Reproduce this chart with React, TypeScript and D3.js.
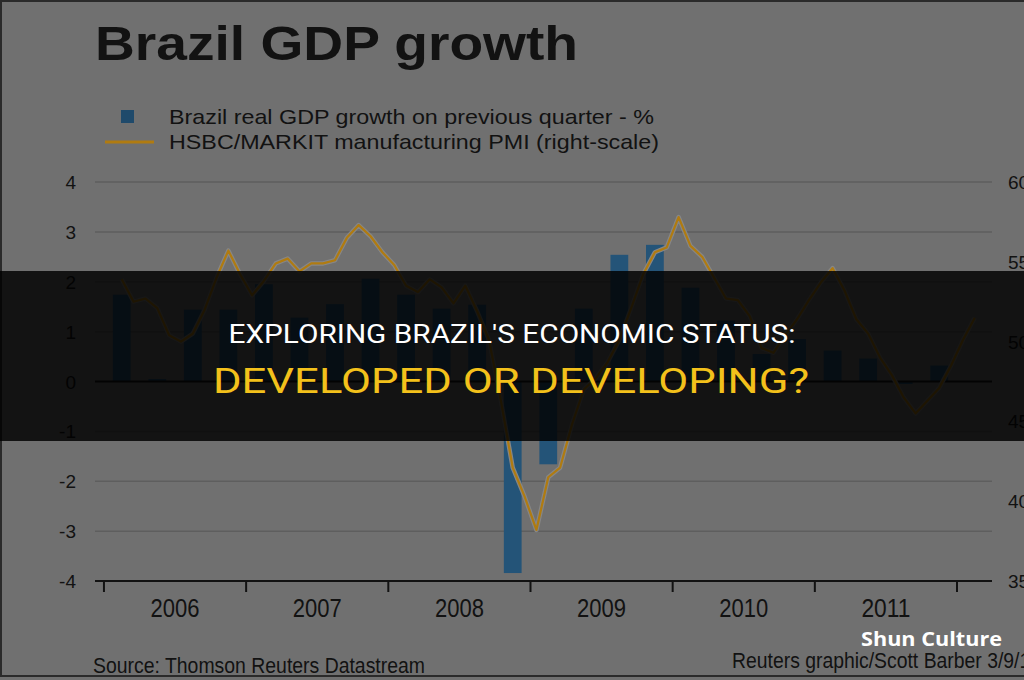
import React from "react";
import * as d3 from "d3";

// Quarterly real GDP growth, % on previous quarter (2006 Q1 .. 2011 Q4)
const gdpStartYear = 2006;
const gdpGrowth = [
  1.74, 0.05, 1.44, 1.44,
  1.95, 1.28, 1.55, 2.06,
  1.74, 1.46, 1.54, -3.84,
  -1.66, 1.46, 2.54, 2.74,
  1.88, 1.22, 0.55, 0.85,
  0.62, 0.46, -0.05, 0.32,
];

// Monthly HSBC/Markit manufacturing PMI (Feb 2006 .. Feb 2012)
const pmiStart = 2006 + 1 / 12;
const pmi = [
  53.9, 52.5, 52.7, 52.1, 50.4, 50.0, 50.5, 52.0, 54.0, 55.7, 54.2,
  52.9, 53.8, 54.9, 55.2, 54.4, 54.9, 54.9, 55.1, 56.5, 57.3, 56.6, 55.6,
  54.8, 53.5, 53.1, 53.9, 53.4, 52.4, 53.5, 51.9, 50.1, 46.3, 42.1, 40.3,
  38.2, 41.5, 42.1, 44.8, 47.0, 47.7, 48.7, 50.1, 52.1, 54.2, 55.6, 55.9,
  57.8, 56.0, 55.3, 54.0, 52.7, 52.6, 51.6, 49.6, 49.3, 50.4, 51.4, 52.6,
  53.7, 54.6, 53.2, 51.4, 50.5, 49.0, 47.9, 46.5, 45.5, 46.3, 47.1, 48.5,
  50.1, 51.5,
];

const leftTicks = [4, 3, 2, 1, 0, -1, -2, -3, -4];
const rightTicks = [60, 55, 50, 45, 40, 35];
const yearLabels = ["2006", "2007", "2008", "2009", "2010", "2011"];
const yearTicks = [2006, 2007, 2008, 2009, 2010, 2011, 2012];

const W = 1024;
const H = 680;

const FONT = "'Liberation Sans', Arial, sans-serif";
const INK = "#121212";

export default function App() {
  const x = d3.scaleLinear().domain([2005.937, 2012.246]).range([95, 992]);
  const yL = d3.scaleLinear().domain([-4, 4]).range([581, 182]);
  const yR = d3.scaleLinear().domain([35, 60]).range([581, 182]);

  const barW = x(2006.125) - x(2006);
  const pmiLine = d3
    .line<number>()
    .x((_, i) => x(pmiStart + (i + 0.5) / 12))
    .y((v) => yR(v));
  const pathD = pmiLine(pmi) || "";

  const [x0, x1] = x.range();

  return (
    <svg
      width={W}
      height={H}
      viewBox={`0 0 ${W} ${H}`}
      style={{ position: "absolute", left: 0, top: 0, display: "block" }}
    >
      <rect x={0} y={0} width={W} height={H} fill="#707070" />

      {/* gridlines */}
      {leftTicks
        .filter((t) => t !== 0 && t !== -4)
        .map((t) => (
          <line key={t} x1={x0} x2={x1} y1={yL(t)} y2={yL(t)} stroke="#5e5e5e" strokeWidth={1.5} />
        ))}

      {/* GDP bars */}
      {gdpGrowth.map((v, q) => {
        const cx = x(gdpStartYear + (q + 0.5) / 4);
        const top = Math.min(yL(v), yL(0));
        const h = Math.abs(yL(v) - yL(0));
        return <rect key={q} x={cx - barW / 2} y={top} width={barW} height={h} fill="#245478" />;
      })}

      {/* zero line */}
      <line x1={x0} x2={x1} y1={yL(0)} y2={yL(0)} stroke={INK} strokeWidth={2} />

      {/* PMI line */}
      <path d={pathD} fill="none" stroke="#868686" strokeWidth={4.5} strokeLinejoin="round" />
      <path d={pathD} fill="none" stroke="#b07b10" strokeWidth={2.2} strokeLinejoin="round" />

      {/* x axis */}
      <line x1={x0} x2={x1} y1={yL(-4)} y2={yL(-4)} stroke={INK} strokeWidth={2} />
      {yearTicks.map((t) => (
        <line key={t} x1={x(t)} x2={x(t)} y1={yL(-4)} y2={yL(-4) + 11} stroke={INK} strokeWidth={2} />
      ))}
      {yearLabels.map((lab) => (
        <text
          key={lab}
          x={x(+lab + 0.5)}
          y={617}
          textAnchor="middle"
          fontFamily={FONT}
          fontSize={26}
          textLength={49}
          lengthAdjust="spacingAndGlyphs"
          fill={INK}
        >
          {lab}
        </text>
      ))}

      {/* left axis labels */}
      {leftTicks.map((t) => (
        <text key={t} x={76} y={yL(t) + 7} textAnchor="end" fontFamily={FONT} fontSize={19} fill={INK}>
          {t}
        </text>
      ))}

      {/* right axis labels */}
      {rightTicks.map((t) => (
        <text key={t} x={1008} y={yR(t) + 7} fontFamily={FONT} fontSize={19} fill={INK}>
          {t}
        </text>
      ))}

      {/* title */}
      <text
        x={95}
        y={60}
        fontFamily={FONT}
        fontWeight="bold"
        fontSize={48}
        textLength={483}
        lengthAdjust="spacingAndGlyphs"
        fill={INK}
      >
        Brazil GDP growth
      </text>

      {/* legend */}
      <rect x={121} y={110} width={13} height={13} fill="#1f4a6b" />
      <text x={169} y={124} fontFamily={FONT} fontSize={21} textLength={485} lengthAdjust="spacingAndGlyphs" fill={INK}>
        Brazil real GDP growth on previous quarter - %
      </text>
      <line x1={105} x2={154} y1={142} y2={142} stroke="#b07b10" strokeWidth={3} />
      <text x={169} y={149} fontFamily={FONT} fontSize={21} textLength={490} lengthAdjust="spacingAndGlyphs" fill={INK}>
        HSBC/MARKIT manufacturing PMI (right-scale)
      </text>

      {/* source lines */}
      <text x={93} y={673} fontFamily={FONT} fontSize={22} textLength={332} lengthAdjust="spacingAndGlyphs" fill={INK}>
        Source: Thomson Reuters Datastream
      </text>
      <text x={732} y={668} fontFamily={FONT} fontSize={22} textLength={309} lengthAdjust="spacingAndGlyphs" fill={INK}>
        Reuters graphic/Scott Barber 3/9/12
      </text>

      {/* frame */}
      <rect x={1} y={1} width={W + 10} height={675} fill="none" stroke="#2a2a2a" strokeWidth={2} />

      {/* headline band */}
      <rect x={0} y={271} width={W} height={170} fill="#000" fillOpacity={0.83} />
      <text
        x={512}
        y={343}
        textAnchor="middle"
        fontFamily="Roboto, 'Open Sans', sans-serif"
        fontSize={25}
        textLength={567}
        lengthAdjust="spacingAndGlyphs"
        fill="#ffffff"
      >
        EXPLORING BRAZIL'S ECONOMIC STATUS:
      </text>
      <text
        x={511}
        y={393}
        textAnchor="middle"
        fontFamily="Roboto, 'Open Sans', sans-serif"
        fontSize={35}
        textLength={596}
        lengthAdjust="spacingAndGlyphs"
        fill="#f3c11b"
      >
        DEVELOPED OR DEVELOPING?
      </text>

      {/* watermark */}
      <text
        x={861}
        y={646}
        fontFamily="'Open Sans', 'Noto Sans', sans-serif"
        fontWeight="bold"
        fontSize={20}
        textLength={141}
        lengthAdjust="spacingAndGlyphs"
        fill="#ffffff"
      >
        Shun Culture
      </text>
    </svg>
  );
}
